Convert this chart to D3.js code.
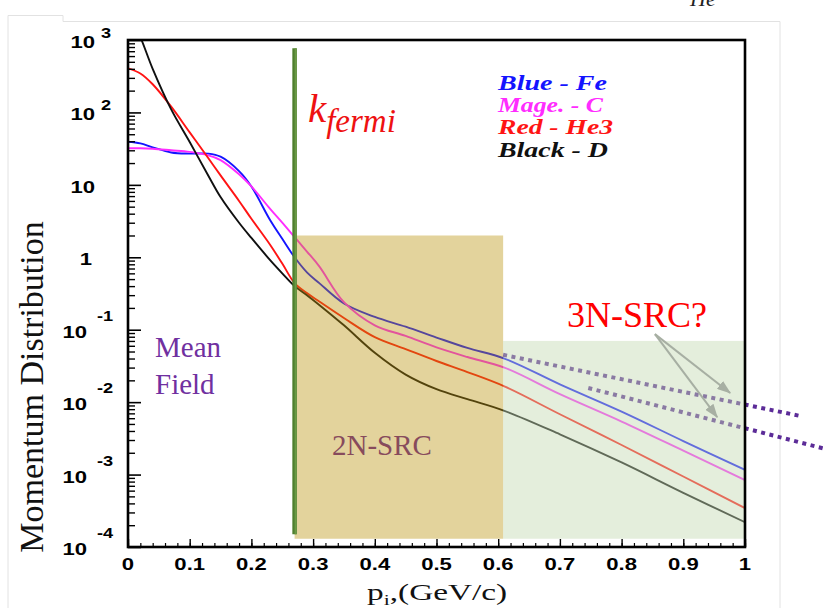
<!DOCTYPE html>
<html>
<head>
<meta charset="utf-8">
<script src="https://d3js.org/d3.v7.min.js"></script>
<style>
  body { margin: 0; background: #fff; }
  svg { display: block; }
</style>
</head>
<body>
<div id="chart"></div>
<script>
// momentum grid p_i (GeV/c) and the four distributions
var pValues   = [0, 0.02, 0.04, 0.07, 0.10, 0.13, 0.15, 0.18, 0.20, 0.23, 0.25, 0.27, 0.29, 0.31, 0.35, 0.40, 0.45, 0.50, 0.55, 0.61, 0.70, 0.80, 0.90, 1.00];
var feValues  = [39.4, 37.4, 33, 28, 27, 27, 24.5, 15.5, 9.5, 3.3, 1.8, 1.0, 0.62, 0.44, 0.23, 0.15, 0.11, 0.078, 0.056, 0.040, 0.0176, 0.0074, 0.0029, 0.00116];
var cValues   = [32, 32, 31.5, 30, 28.5, 25.5, 22, 14, 9.5, 4.7, 3.0, 1.9, 1.2, 0.75, 0.24, 0.115, 0.082, 0.057, 0.042, 0.030, 0.0129, 0.0054, 0.00214, 0.00084];
var he3Values = [406, 345, 245, 120, 53, 23.5, 13.5, 6.0, 3.4, 1.5, 0.82, 0.44, 0.32, 0.245, 0.145, 0.079, 0.054, 0.037, 0.026, 0.0165, 0.0068, 0.00256, 0.00094, 0.000345];
var dValues   = [2500, 1100, 400, 110, 39, 13.5, 6.8, 3.0, 1.85, 0.92, 0.60, 0.40, 0.30, 0.22, 0.115, 0.048, 0.024, 0.0151, 0.0110, 0.0076, 0.0036, 0.00147, 0.00056, 0.00022];

var legendLabels = ["Blue - Fe", "Mage. - C", "Red - He3", "Black - D"];
var seriesColors = ["#1414ff", "#ff2cff", "#ff1414", "#101010"];

var xTickValues = [0, 0.1, 0.2, 0.3, 0.4, 0.5, 0.6, 0.7, 0.8, 0.9, 1];
var xTickLabels = ["0", "0.1", "0.2", "0.3", "0.4", "0.5", "0.6", "0.7", "0.8", "0.9", "1"];
var yTickValues = [1e-4, 1e-3, 1e-2, 1e-1, 1, 10, 100, 1000];
var yTickBase   = ["10", "10", "10", "10", "1", "10", "10", "10"];
var yTickExp    = ["-4", "-3", "-2", "-1", "", "", "2", "3"];

// regions and annotations (data units)
var kFermi = 0.27;
var kFermiSpan = [1.5e-4, 770];
var src2Region = {p0: 0.27, p1: 0.608, v0: 1.3e-4, v1: 2.0};
var src3Region = {p0: 0.608, p1: 1.0, v0: 1.3e-4, v1: 0.07};
var dottedLines = [
  [[0.608, 0.045], [1.089, 0.00646]],
  [[0.746, 0.0157], [1.14, 0.00215]]
];
var arrowStart = [0.854, 0.087];
var arrowEnds = [[0.976, 0.0134], [0.955, 0.0062]];

var svgWidth = 823;
var svgHeight = 608;
var margin = {top: 40, right: 78, bottom: 61, left: 128};
var width = svgWidth - margin.left - margin.right;
var height = svgHeight - margin.top - margin.bottom;

var svg = d3.select("#chart")
  .append("svg")
  .attr("width", svgWidth)
  .attr("height", svgHeight);

// faint page frame
svg.append("path")
  .attr("d", "M8,608 L8,15.5 L63,15.5 L63,21.5 L780,21.5 L780,608")
  .attr("fill", "none")
  .attr("stroke", "#e2e2e2")
  .attr("stroke-width", 1);

svg.append("text")
  .attr("x", 690)
  .attr("y", 6)
  .attr("font-family", "'Liberation Serif', 'Times New Roman', serif")
  .attr("font-style", "italic")
  .attr("font-size", 22)
  .attr("fill", "#222")
  .text("He");

var x = d3.scaleLinear().domain([0, 1]).range([0, width]);
var y = d3.scaleLog().domain([1e-4, 1e3]).range([height, 0]);

var g = svg.append("g")
  .attr("transform", `translate(${margin.left}, ${margin.top})`);

g.append("clipPath")
  .attr("id", "plotClip")
  .append("rect")
  .attr("width", width)
  .attr("height", height);

// curves
var allSeries = [feValues, cValues, he3Values, dValues];
var line = d3.line()
  .x(d => x(d[0]))
  .y(d => y(d[1]))
  .curve(d3.curveCatmullRom.alpha(0.5));

allSeries.forEach(function(vals, i) {
  g.append("path")
    .datum(pValues.map((p, j) => [p, vals[j]]))
    .attr("clip-path", "url(#plotClip)")
    .attr("fill", "none")
    .attr("stroke", seriesColors[i])
    .attr("stroke-width", 1.9)
    .attr("d", line);
});

// dotted 3N guides
dottedLines.forEach(function(seg) {
  g.append("line")
    .attr("x1", x(seg[0][0])).attr("y1", y(seg[0][1]))
    .attr("x2", x(seg[1][0])).attr("y2", y(seg[1][1]))
    .attr("stroke", "#5c2c98")
    .attr("stroke-width", 4)
    .attr("stroke-dasharray", "4,4.5");
});

// shaded regions
g.append("rect")
  .attr("x", x(src2Region.p0))
  .attr("y", y(src2Region.v1))
  .attr("width", x(src2Region.p1) - x(src2Region.p0))
  .attr("height", y(src2Region.v0) - y(src2Region.v1))
  .attr("fill", "rgb(185,145,7)")
  .attr("fill-opacity", 0.4);

g.append("rect")
  .attr("x", x(src3Region.p0))
  .attr("y", y(src3Region.v1))
  .attr("width", x(src3Region.p1) - x(src3Region.p0))
  .attr("height", y(src3Region.v0) - y(src3Region.v1))
  .attr("fill", "rgb(195,217,178)")
  .attr("fill-opacity", 0.45);

// k_fermi line
g.append("line")
  .attr("x1", x(kFermi)).attr("x2", x(kFermi))
  .attr("y1", y(kFermiSpan[1])).attr("y2", y(kFermiSpan[0]))
  .attr("stroke", "#4f7f2e")
  .attr("stroke-width", 4.5);
g.append("line")
  .attr("x1", x(kFermi) + 1).attr("x2", x(kFermi) + 1)
  .attr("y1", y(kFermiSpan[1])).attr("y2", y(kFermiSpan[0]))
  .attr("stroke", "#6a9a45")
  .attr("stroke-width", 2);

// arrows
svg.append("defs").append("marker")
  .attr("id", "arrowHead")
  .attr("markerUnits", "userSpaceOnUse")
  .attr("viewBox", "0 0 14 10")
  .attr("refX", 13)
  .attr("refY", 5)
  .attr("markerWidth", 14)
  .attr("markerHeight", 10)
  .attr("orient", "auto")
  .append("path")
  .attr("d", "M0,0 L14,5 L0,10 Z")
  .attr("fill", "#a7afa3");

arrowEnds.forEach(function(end) {
  g.append("line")
    .attr("x1", x(arrowStart[0])).attr("y1", y(arrowStart[1]))
    .attr("x2", x(end[0])).attr("y2", y(end[1]))
    .attr("stroke", "#a7afa3")
    .attr("stroke-width", 2)
    .attr("marker-end", "url(#arrowHead)");
});

// axes (ticks pointing inward)
var yMinor = [];
yTickValues.slice(0, -1).forEach(function(v) {
  for (var k = 2; k <= 9; k++) yMinor.push(v * k);
});

g.append("g")
  .call(d3.axisLeft(y).tickValues(yTickValues).tickSize(-13).tickFormat(""))
  .call(a => a.select(".domain").remove())
  .selectAll("line").attr("stroke", "#000").attr("stroke-width", 1.6);
g.append("g")
  .call(d3.axisLeft(y).tickValues(yMinor).tickSize(-7).tickFormat(""))
  .call(a => a.select(".domain").remove())
  .selectAll("line").attr("stroke", "#000").attr("stroke-width", 1.4);

g.append("g")
  .attr("transform", `translate(0, ${height})`)
  .call(d3.axisBottom(x).tickValues(xTickValues).tickSize(-8).tickFormat(""))
  .call(a => a.select(".domain").remove())
  .selectAll("line").attr("stroke", "#000").attr("stroke-width", 1.4);
g.append("g")
  .attr("transform", `translate(0, ${height})`)
  .call(d3.axisBottom(x).tickValues(d3.range(0, 1.001, 0.02)).tickSize(-4).tickFormat(""))
  .call(a => a.select(".domain").remove())
  .selectAll("line").attr("stroke", "#000").attr("stroke-width", 1.2);

g.append("rect")
  .attr("width", width)
  .attr("height", height)
  .attr("fill", "none")
  .attr("stroke", "#000")
  .attr("stroke-width", 2.6);

// tick labels
var sansBold = "'Liberation Sans', Arial, Helvetica, sans-serif";
xTickValues.forEach(function(v, i) {
  svg.append("text")
    .attr("transform", `translate(${margin.left + x(v)}, 570) scale(1.3, 1)`)
    .attr("text-anchor", "middle")
    .attr("font-family", sansBold)
    .attr("font-weight", "bold")
    .attr("font-size", 17)
    .text(xTickLabels[i]);
});

yTickValues.forEach(function(v, i) {
  var ty = margin.top + y(v);
  var neg = yTickExp[i].charAt(0) === "-";
  var baseEnd = yTickBase[i] === "1" ? 92 : (neg ? 87 : 95);
  svg.append("text")
    .attr("transform", `translate(${baseEnd}, ${ty + 8}) scale(1.3, 1)`)
    .attr("text-anchor", "end")
    .attr("font-family", sansBold)
    .attr("font-weight", "bold")
    .attr("font-size", 17)
    .text(yTickBase[i]);
  if (yTickExp[i]) {
    svg.append("text")
      .attr("transform", `translate(${neg ? 97 : 101}, ${ty + (neg ? -9 : -2)}) scale(1.3, 1)`)
      .attr("font-family", sansBold)
      .attr("font-weight", "bold")
      .attr("font-size", 14)
      .text(yTickExp[i]);
  }
});

// axis titles
var serif = "'Liberation Serif', 'Times New Roman', Times, serif";
var xTitle = svg.append("text")
  .attr("transform", "translate(367, 600) scale(1.45, 1)")
  .attr("font-family", serif)
  .attr("font-size", 23)
  .attr("fill", "#111");
xTitle.append("tspan").text("p");
xTitle.append("tspan").attr("font-size", 15).attr("dy", 5).text("i");
xTitle.append("tspan").attr("dy", -5).text(",(GeV/c)");

svg.append("text")
  .attr("transform", "translate(43, 387) rotate(-90)")
  .attr("text-anchor", "middle")
  .attr("font-family", serif)
  .attr("font-size", 34)
  .attr("fill", "#111")
  .text("Momentum Distribution");

// legend
var legendWidths = [109, 105, 115, 110];
legendLabels.forEach(function(lab, i) {
  svg.append("text")
    .attr("x", 498)
    .attr("y", 90 + i * 22.2)
    .attr("font-family", serif)
    .attr("font-weight", "bold")
    .attr("font-style", "italic")
    .attr("font-size", 20)
    .attr("textLength", legendWidths[i])
    .attr("lengthAdjust", "spacingAndGlyphs")
    .attr("fill", seriesColors[i])
    .text(lab);
});

// annotations
var kText = svg.append("text")
  .attr("x", 308)
  .attr("y", 122)
  .attr("font-family", serif)
  .attr("font-style", "italic")
  .attr("font-size", 41)
  .attr("fill", "#ee1111");
kText.append("tspan").text("k");
kText.append("tspan").attr("font-size", 33).attr("dy", 10).text("fermi");

svg.append("text")
  .attr("x", 155).attr("y", 357)
  .attr("font-family", serif).attr("font-size", 29)
  .attr("fill", "#7030a0")
  .text("Mean");
svg.append("text")
  .attr("x", 155).attr("y", 394)
  .attr("font-family", serif).attr("font-size", 29)
  .attr("fill", "#7030a0")
  .text("Field");

svg.append("text")
  .attr("x", 332).attr("y", 455)
  .attr("font-family", serif).attr("font-size", 29)
  .attr("fill", "#874b5c")
  .text("2N-SRC");

svg.append("text")
  .attr("x", 567).attr("y", 327)
  .attr("font-family", serif).attr("font-size", 36)
  .attr("fill", "#ff0000")
  .text("3N-SRC?");
</script>
</body>
</html>
